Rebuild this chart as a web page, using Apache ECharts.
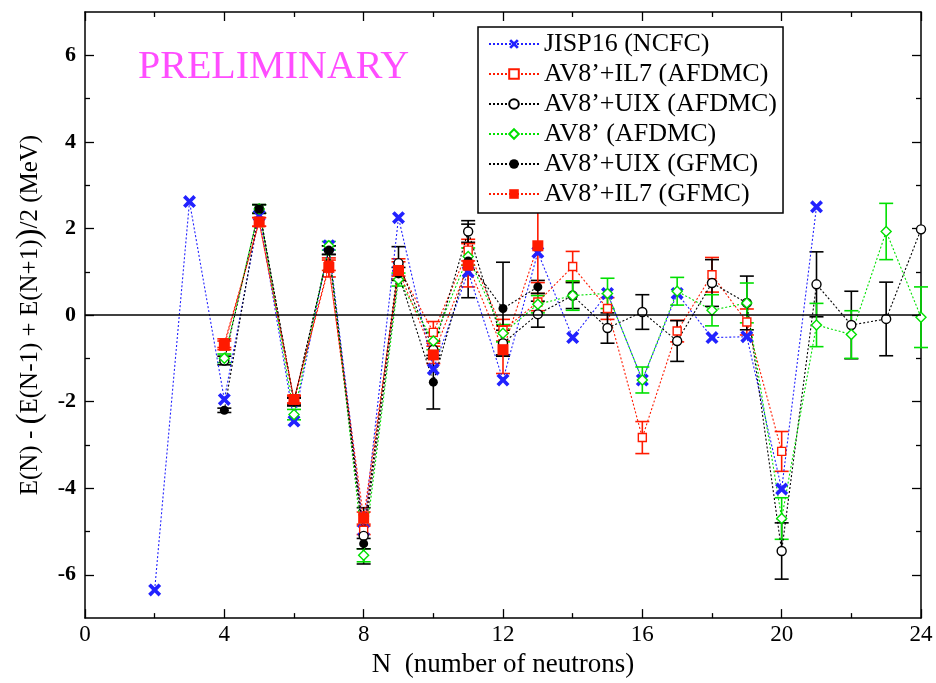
<!DOCTYPE html>
<html>
<head>
<meta charset="utf-8">
<script src="https://cdn.jsdelivr.net/npm/echarts@6/dist/echarts.min.js"></script>
<style>html,body{margin:0;padding:0;background:#fff}#c{width:936px;height:683px}</style>
</head>
<body>
<div id="c"></div>
<script>
// ---- data ----
const xTicks = [0, 4, 8, 12, 16, 20, 24];
const yTicks = [-6, -4, -2, 0, 2, 4, 6];
const yMinorTicks = [-5, -3, -1, 1, 3, 5];

const nJISP = [2, 3, 4, 5, 6, 7, 8, 9, 10, 11, 12, 13, 14, 15, 16, 17, 18, 19, 20, 21];
const vJISP = [-6.35, 2.62, -1.95, 2.3, -2.45, 1.6, -4.97, 2.25, -1.25, 1.0, -1.5, 1.45, -0.52, 0.5, -1.5, 0.5, -0.52, -0.5, -4.02, 2.5];

const nIL7A = [4, 5, 6, 7, 8, 9, 10, 11, 12, 13, 14, 15, 16, 17, 18, 19, 20];
const vIL7A = [-0.65, 2.15, -1.95, 1.15, -4.97, 1.1, -0.4, 1.5, -0.35, 0.3, 1.12, 0.15, -2.83, -0.37, 0.93, -0.16, -3.15];
const eIL7A = [0.1, 0.1, 0.1, 0.12, 0.1, 0.2, 0.25, 0.25, 0.25, 0.2, 0.35, 0.25, 0.37, 0.25, 0.4, 0.3, 0.46];

const nUIXA = [4, 5, 6, 7, 8, 9, 10, 11, 12, 13, 14, 15, 16, 17, 18, 19, 20, 21, 22, 23, 24];
const vUIXA = [-1.05, 2.45, -2.0, 1.5, -5.1, 1.2, -0.8, 1.93, -0.65, 0.02, 0.45, -0.3, 0.07, -0.6, 0.74, 0.28, -5.45, 0.71, -0.23, -0.09, 1.98];
const eUIXA = [0.1, 0.1, 0.1, 0.1, 0.65, 0.38, 0.2, 0.25, 0.3, 0.3, 0.3, 0.35, 0.4, 0.47, 0.54, 0.62, 0.65, 0.75, 0.78, 0.85, 0.0];

const nAV8 = [4, 5, 6, 7, 8, 9, 10, 11, 12, 13, 14, 15, 16, 17, 18, 19, 20, 21, 22, 23, 24];
const vAV8 = [-1.0, 2.45, -2.3, 1.6, -5.55, 0.82, -0.6, 1.35, -0.42, 0.25, 0.45, 0.5, -1.5, 0.55, 0.11, 0.28, -4.7, -0.23, -0.45, 1.93, -0.05];
const eAV8 = [0.1, 0.1, 0.12, 0.1, 0.15, 0.15, 0.2, 0.2, 0.2, 0.2, 0.34, 0.35, 0.3, 0.32, 0.36, 0.46, 0.48, 0.5, 0.55, 0.65, 0.7];

const nUIXG = [4, 5, 6, 7, 8, 9, 10, 11, 12, 13];
const vUIXG = [-2.2, 2.45, -2.0, 1.5, -5.28, 0.95, -1.55, 1.25, 0.15, 0.65];
const eUIXG = [0.05, 0.1, 0.08, 0.1, 0.12, 0.15, 0.62, 0.85, 1.07, 0.15];

const nIL7G = [4, 5, 6, 7, 8, 9, 10, 11, 12, 13];
const vIL7G = [-0.7, 2.15, -1.95, 1.1, -4.69, 1.03, -0.92, 1.15, -0.8, 1.6];
const eIL7G = [0.1, 0.1, 0.08, 0.22, 0.14, 0.2, 0.2, 0.5, 0.55, 0.85];

const names = ['JISP16 (NCFC)', 'AV8\u2019+IL7 (AFDMC)', 'AV8\u2019+UIX (AFDMC)', 'AV8\u2019 (AFDMC)', 'AV8\u2019+UIX (GFMC)', 'AV8\u2019+IL7 (GFMC)'];

// ---- build ----
const SERIF = 'Liberation Serif';
const BLUE = '#2222ff', RED = '#ff1a00', BLACK = '#000000', GREEN = '#00e000';
const xPath = 'path://M0,2 L2,0 L5,3 L8,0 L10,2 L7,5 L10,8 L8,10 L5,7 L2,10 L0,8 L3,5 Z';

function pts(ns, vs) { return ns.map((n, i) => [n, vs[i]]); }
function ebData(ns, vs, es) { return ns.map((n, i) => [n, vs[i] - es[i], vs[i] + es[i]]).filter((d, i) => es[i] > 0); }

function errSeries(id, ns, vs, es, color) {
  return {
    type: 'custom', name: id, silent: true,
    data: ebData(ns, vs, es),
    renderItem: function (params, api) {
      const x = api.value(0), lo = api.value(1), hi = api.value(2);
      const p1 = api.coord([x, lo]), p2 = api.coord([x, hi]);
      const hw = 7;
      const st = { stroke: color, lineWidth: 1.6 };
      return { type: 'group', children: [
        { type: 'line', shape: { x1: p1[0], y1: p1[1], x2: p2[0], y2: p2[1] }, style: st },
        { type: 'line', shape: { x1: p1[0] - hw, y1: p1[1], x2: p1[0] + hw, y2: p1[1] }, style: st },
        { type: 'line', shape: { x1: p2[0] - hw, y1: p2[1], x2: p2[0] + hw, y2: p2[1] }, style: st }
      ]};
    },
    z: 2
  };
}

function lineSeries(name, ns, vs, color, symbol, size, filled) {
  return {
    type: 'line', name: name, data: pts(ns, vs),
    symbol: symbol, symbolSize: size, showAllSymbol: true,
    lineStyle: { color: color, width: 1.1, type: [2, 2] },
    itemStyle: filled ? { color: color, borderColor: color, borderWidth: 0 } : { color: '#ffffff', borderColor: color, borderWidth: 1.4 },
    emphasis: { disabled: true }, animation: false, z: 2
  };
}

const series = [
  lineSeries(names[0], nJISP, vJISP, BLUE, xPath, 13, true),
  errSeries('e1', nIL7A, vIL7A, eIL7A, RED),
  lineSeries(names[1], nIL7A, vIL7A, RED, 'rect', 8, false),
  errSeries('e2', nUIXA, vUIXA, eUIXA, BLACK),
  lineSeries(names[2], nUIXA, vUIXA, BLACK, 'circle', 9, false),
  errSeries('e3', nAV8, vAV8, eAV8, GREEN),
  lineSeries(names[3], nAV8, vAV8, GREEN, 'diamond', 10, false),
  errSeries('e4', nUIXG, vUIXG, eUIXG, BLACK),
  lineSeries(names[4], nUIXG, vUIXG, BLACK, 'circle', 9, true),
  errSeries('e5', nIL7G, vIL7G, eIL7G, RED),
  lineSeries(names[5], nIL7G, vIL7G, RED, 'rect', 11, true)
];
series[0].markLine = {
  silent: true, symbol: 'none', label: { show: false },
  lineStyle: { color: '#000', width: 1.5, type: 'solid' },
  data: [{ yAxis: 0 }]
};

const chart = echarts.init(document.getElementById('c'), null, { renderer: 'canvas' });
const lineSt = { color: '#000', width: 1.5 };
const tickSt = { color: '#000', width: 1.3 };

function yAxisDef(pos, major, showLabels) {
  const ax = {
    type: 'value', min: -7, max: 7, position: pos, offset: 0,
    axisLine: { show: major, onZero: false, lineStyle: lineSt },
    axisTick: { show: true, inside: true, length: major ? 9 : 5, lineStyle: tickSt,
      customValues: major ? yTicks : yMinorTicks },
    axisLabel: { show: showLabels },
    splitLine: { show: false }
  };
  if (showLabels) {
    ax.axisLabel = { show: true, customValues: yTicks, fontFamily: SERIF, fontSize: 22, fontWeight: 'bold', color: '#000', margin: 9 };
    ax.name = '{a|E(N) - }{b|(}{a|E(N-1) + E(N+1)}{b|)}{a|/2 (MeV)}';
    ax.nameLocation = 'middle';
    ax.nameGap = 38;
    ax.nameTextStyle = { rich: {
      a: { fontFamily: SERIF, fontSize: 25, color: '#000' },
      b: { fontFamily: SERIF, fontSize: 33, color: '#000' }
    } };
  }
  return ax;
}
function xAxisDef(pos, showLabels) {
  const ax = {
    type: 'value', min: 0, max: 24, interval: 4, position: pos,
    axisLine: { show: true, onZero: false, lineStyle: lineSt },
    axisTick: { show: true, inside: true, length: 9, lineStyle: tickSt },
    minorTick: { show: true, splitNumber: 2, length: 5, lineStyle: tickSt },
    axisLabel: { show: showLabels },
    splitLine: { show: false }
  };
  if (showLabels) {
    ax.axisLabel = { show: true, fontFamily: SERIF, fontSize: 23, color: '#000', margin: 5,
      formatter: v => xTicks.indexOf(v) >= 0 ? String(v) : '' };
    ax.name = 'N  (number of neutrons)';
    ax.nameLocation = 'middle';
    ax.nameGap = 32;
    ax.nameTextStyle = { fontFamily: SERIF, fontSize: 27, color: '#000' };
  }
  return ax;
}

chart.setOption({
  animation: false,
  backgroundColor: '#fff',
  grid: { left: 85, top: 12, width: 836, height: 610 },
  legend: {
    data: names, orient: 'vertical', left: 478, top: 27,
    backgroundColor: '#fff', borderColor: '#000', borderWidth: 1.5,
    padding: [4, 6, 6, 10], itemGap: 4, itemWidth: 50, itemHeight: 12,
    textStyle: { fontFamily: SERIF, fontSize: 26, color: '#000' },
    selectedMode: false, z: 10
  },
  xAxis: [xAxisDef('bottom', true), xAxisDef('top', false)],
  yAxis: [yAxisDef('left', true, true), yAxisDef('left', false, false), yAxisDef('right', true, false), yAxisDef('right', false, false)],
  graphic: [{
    type: 'text', left: 138, top: 47, z: 5,
    style: { text: 'PRELIMINARY', fontFamily: SERIF, fontSize: 40, fill: '#ff4dff' }
  }],
  series: series
});
</script>
</body>
</html>
